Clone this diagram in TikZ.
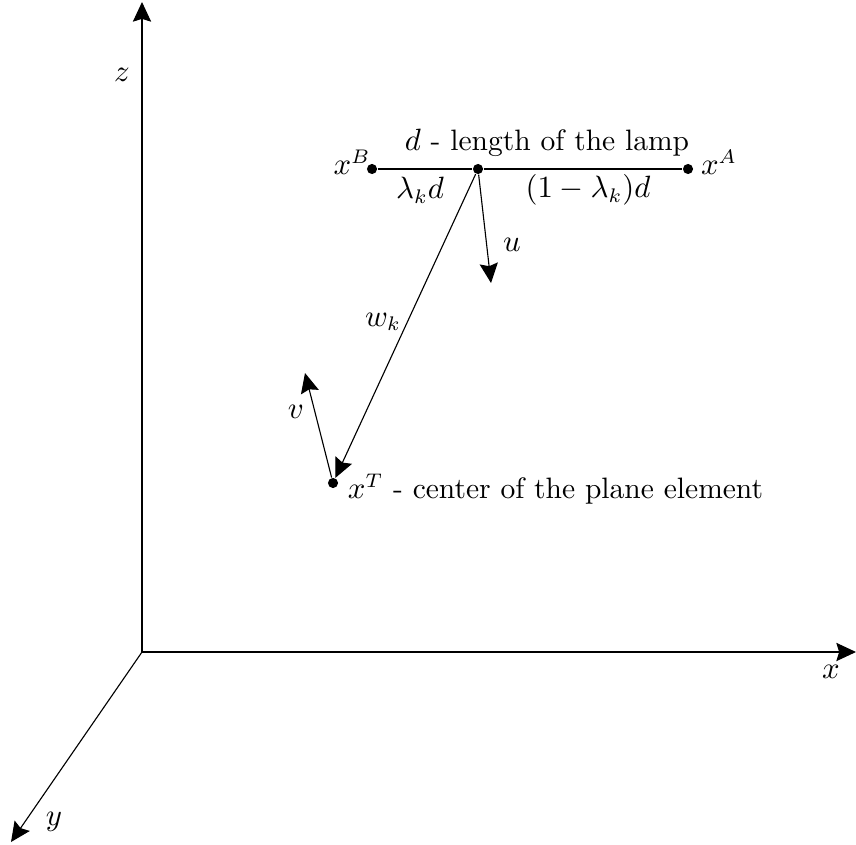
\documentclass[tikz,border=0pt]{standalone}
\usepackage{amsmath}
\usetikzlibrary{arrows.meta}
\begin{document}
\begin{tikzpicture}[x=0.0125cm, y=-0.0125cm, >={Stealth[length=7pt,width=6.5pt,inset=1pt]},
  font=\fontsize{10.5}{12.6}\selectfont,
  dot/.style={circle,fill,inner sep=0pt,minimum size=3.6pt}]
  \useasboundingbox (0,0) rectangle (856,844);
  % axes
  \coordinate (o) at (142,652);
  \coordinate (zend) at (142,2);
  \coordinate (xend) at (856,652);
  \coordinate (yend) at (11,842);
  \draw[->] (o) -- (zend);
  \draw[->] (o) -- (xend);
  \draw[->] (o) -- (yend);
  \node (zl) at (122,75) {$z$};
  \node (xl) at (831,672) {$x$};
  \node (yl) at (54,822) {$y$};
  % lamp
  \node[dot] (xb) at (372,169) {};
  \node[dot] (xa) at (688,169) {};
  \node[dot] (m) at (478,169) {};
  \node[dot] (xt) at (333,483) {};
  \draw (xb) -- (m) -- (xa);
  \node (xbl) at (352,162) {$x^B$};
  \node (xal) at (719,162) {$x^A$};
  \node (dl) at (547,143) {$d$ - length of the lamp};
  \node (ll) at (420,190) {$\lambda_k d$};
  \node (rl) at (588,190) {$(1-\lambda_k)d$};
  % vectors
  \coordinate (uend) at (491,283);
  \coordinate (vend) at (305,373);
  \draw[->] (m) -- (uend);
  \draw[->] (m) -- (xt);
  \draw[->] (xt) -- (vend);
  \node (ul) at (512,245) {$u$};
  \node (wl) at (383,322) {$w_k$};
  \node (vl) at (296,412) {$v$};
  \node[anchor=west] (xtl) at (338,489) {$x^T$ - center of the plane element};
\end{tikzpicture}
\end{document}
